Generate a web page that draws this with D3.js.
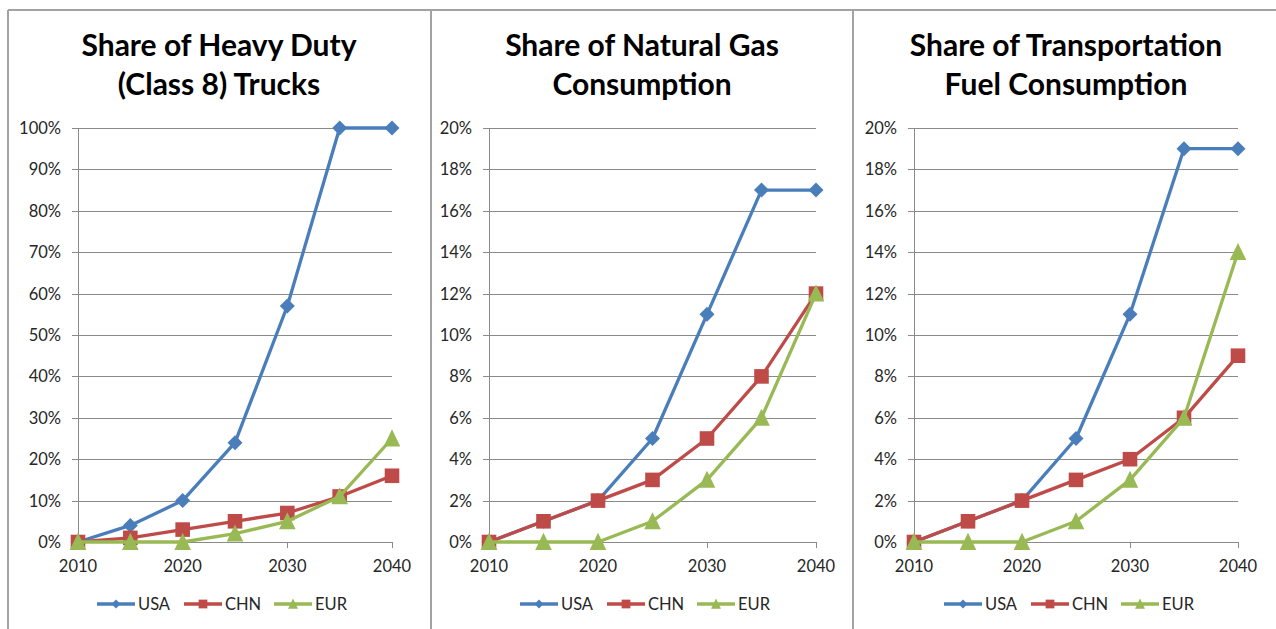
<!DOCTYPE html>
<html>
<head>
<meta charset="utf-8">
<script src="https://cdn.jsdelivr.net/npm/d3@7"></script>
<style>
  body { margin: 0; background: white; }
  text { font-family: Lato, "Open Sans", sans-serif; }
</style>
</head>
<body>
<div id="canvas"></div>
<script>
"use strict"

/* Data */
let years = [2010, 2015, 2020, 2025, 2030, 2035, 2040];
let yearLabels = [2010, 2020, 2030, 2040];
let seriesNames = ["USA", "CHN", "EUR"];

let trucksUSA = [0, 4, 10, 24, 57, 100, 100];
let trucksCHN = [0, 1, 3, 5, 7, 11, 16];
let trucksEUR = [0, 0, 0, 2, 5, 11, 25];

let gasUSA = [0, 1, 2, 5, 11, 17, 17];
let gasCHN = [0, 1, 2, 3, 5, 8, 12];
let gasEUR = [0, 0, 0, 1, 3, 6, 12];

let fuelUSA = [0, 1, 2, 5, 11, 19, 19];
let fuelCHN = [0, 1, 2, 3, 4, 6, 9];
let fuelEUR = [0, 0, 0, 1, 3, 6, 14];

let trucksTicks = [0, 10, 20, 30, 40, 50, 60, 70, 80, 90, 100];
let pctTicks = [0, 2, 4, 6, 8, 10, 12, 14, 16, 18, 20];

let titles = [
    ["Share of Heavy Duty", "(Class 8) Trucks"],
    ["Share of Natural Gas", "Consumption"],
    ["Share of Transportation", "Fuel Consumption"]
];

/* Configuration variables: drawing */
let svgWidth = 1276;
let svgHeight = 629;
let colors = ["#4a7ebb", "#be4b48", "#98b954"];
let gridColor = "#8a8a8a";
let textColor = "#262626";
let plotTop = 128;
let plotBottom = 542;

let panels = [
    {left: 8, center: 219, x0: 78, x1: 392, ticks: trucksTicks, max: 100,
     series: [trucksUSA, trucksCHN, trucksEUR]},
    {left: 431, center: 642, x0: 489, x1: 816, ticks: pctTicks, max: 20,
     series: [gasUSA, gasCHN, gasEUR]},
    {left: 853, center: 1066, x0: 914, x1: 1238, ticks: pctTicks, max: 20,
     series: [fuelUSA, fuelCHN, fuelEUR]}
];

let svg = d3.select("#canvas")
    .append("svg")
    .attr("width", svgWidth)
    .attr("height", svgHeight);

svg.append("rect")
    .attr("width", svgWidth)
    .attr("height", svgHeight)
    .attr("fill", "white");

/* Panel borders */
svg.append("line")
    .attr("x1", 8).attr("y1", 10)
    .attr("x2", svgWidth).attr("y2", 10)
    .attr("stroke", "#a3a3a3")
    .attr("stroke-width", 2);

panels.forEach(function (p) {
    svg.append("line")
        .attr("x1", p.left).attr("y1", 10)
        .attr("x2", p.left).attr("y2", svgHeight)
        .attr("stroke", "#a3a3a3")
        .attr("stroke-width", 2);
});

/* Marker shapes: diamond, square, triangle (s = half width) */
function markerPath(i, s) {
    if (i === 0) {
        return "M0," + (-s) + "L" + s + ",0L0," + s + "L" + (-s) + ",0Z";
    }
    if (i === 1) {
        return "M" + (-s) + "," + (-s) + "H" + s + "V" + s + "H" + (-s) + "Z";
    }
    return "M0," + (-s * 1.1) + "L" + s + "," + (s * 0.95) +
        "L" + (-s) + "," + (s * 0.95) + "Z";
}

function marker(g, i, x, y, s) {
    g.append("path")
        .attr("d", markerPath(i, s))
        .attr("fill", colors[i])
        .attr("transform", "translate(" + x + "," + y + ")");
}

let markerSize = [7.5, 7.3, 8.3];

panels.forEach(function (p, pi) {
    let g = svg.append("g");

    let xScale = d3.scalePoint()
        .domain(years)
        .range([p.x0, p.x1]);

    let yScale = d3.scaleLinear()
        .domain([0, p.max])
        .range([plotBottom, plotTop]);

    /* Title */
    titles[pi].forEach(function (line, li) {
        g.append("text")
            .attr("x", p.center)
            .attr("y", 56 + li * 39)
            .attr("text-anchor", "middle")
            .style("font-size", "30px")
            .style("font-weight", "bold")
            .style("fill", "black")
            .text(line);
    });

    /* Gridlines and y labels */
    p.ticks.forEach(function (t) {
        g.append("line")
            .attr("x1", p.x0 - 6)
            .attr("x2", p.x1)
            .attr("y1", Math.round(yScale(t)) + 0.5)
            .attr("y2", Math.round(yScale(t)) + 0.5)
            .attr("stroke", gridColor);

        g.append("text")
            .attr("x", p.x0 - 17)
            .attr("y", yScale(t) + 6)
            .attr("text-anchor", "end")
            .style("font-size", "16.5px")
            .style("fill", textColor)
            .text(t + "%");
    });

    /* Axis lines */
    g.append("line")
        .attr("x1", p.x0 + 0.5).attr("x2", p.x0 + 0.5)
        .attr("y1", plotTop).attr("y2", plotBottom)
        .attr("stroke", gridColor);

    yearLabels.forEach(function (yr) {
        g.append("line")
            .attr("x1", Math.round(xScale(yr)) + 0.5)
            .attr("x2", Math.round(xScale(yr)) + 0.5)
            .attr("y1", plotBottom)
            .attr("y2", plotBottom + 6)
            .attr("stroke", gridColor);

        g.append("text")
            .attr("x", xScale(yr))
            .attr("y", plotBottom + 30)
            .attr("text-anchor", "middle")
            .style("font-size", "16.5px")
            .style("fill", textColor)
            .text(yr);
    });

    /* Series lines and markers */
    let line = d3.line()
        .x(function (d, i) { return xScale(years[i]); })
        .y(function (d) { return yScale(d); });

    p.series.forEach(function (values, si) {
        g.append("path")
            .attr("d", line(values))
            .attr("fill", "none")
            .attr("stroke", colors[si])
            .attr("stroke-width", 3.3)
            .attr("stroke-linejoin", "round");

        values.forEach(function (v, i) {
            marker(g, si, xScale(years[i]), yScale(v), markerSize[si]);
        });
    });

    /* Legend */
    let legendX = p.center - 122;
    let legendY = 604;
    seriesNames.forEach(function (name, si) {
        let lx = legendX + [0, 87, 177][si];
        g.append("line")
            .attr("x1", lx).attr("x2", lx + 38)
            .attr("y1", legendY).attr("y2", legendY)
            .attr("stroke", colors[si])
            .attr("stroke-width", 3.3);
        marker(g, si, lx + 19, legendY, markerSize[si] * 0.6);
        g.append("text")
            .attr("x", lx + 41)
            .attr("y", legendY + 6)
            .style("font-size", "16.5px")
            .style("fill", textColor)
            .text(name);
    });
});
</script>
</body>
</html>
